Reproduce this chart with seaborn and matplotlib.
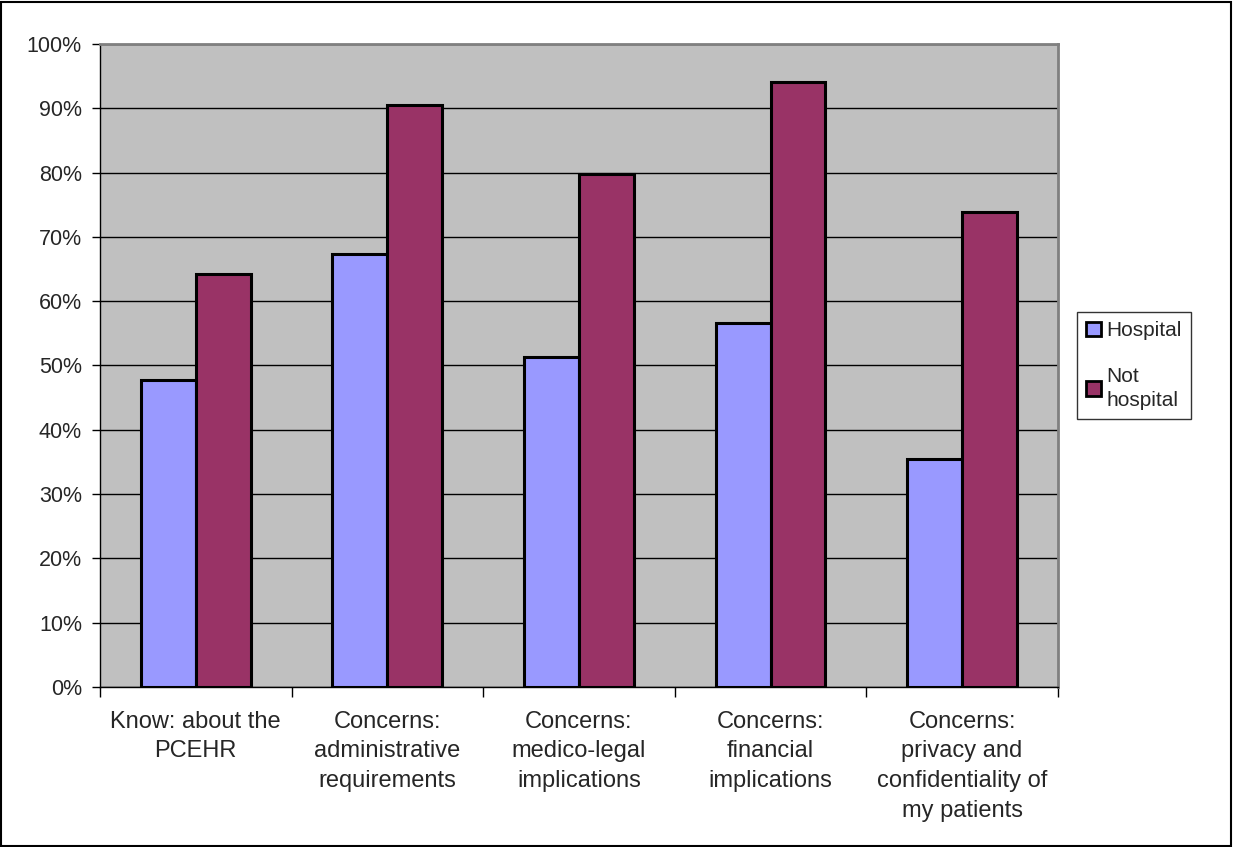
import numpy as np
import pandas as pd
import matplotlib.pyplot as plt
import seaborn as sns
from matplotlib.patches import Rectangle
from matplotlib.ticker import PercentFormatter

# Data
categories = ["Know: about the\nPCEHR",
              "Concerns:\nadministrative\nrequirements",
              "Concerns:\nmedico-legal\nimplications",
              "Concerns:\nfinancial\nimplications",
              "Concerns:\nprivacy and\nconfidentiality of\nmy patients"]
hospital = [47.8, 67.3, 51.3, 56.6, 35.4]
not_hospital = [64.3, 90.5, 79.8, 94.1, 73.9]
groups = ["Hospital", "Not\nhospital"]

df = pd.DataFrame({
    "category": categories * 2,
    "value": hospital + not_hospital,
    "group": [groups[0]] * 5 + [groups[1]] * 5,
})

sns.set_style("white")
plt.rcParams["font.family"] = ["Liberation Sans", "DejaVu Sans"]

fig = plt.figure(figsize=(12.33, 8.47), dpi=100)
ax = fig.add_axes([0.0811, 0.1889, 0.7769, 0.7592])
ax.set_facecolor("#C0C0C0")

sns.barplot(data=df, x="category", y="value", hue="group",
            palette={"Hospital": "#9999FF", "Not\nhospital": "#993366"},
            width=0.573, edgecolor="black", linewidth=2.2, saturation=1,
            ax=ax)

ax.set_ylim(0, 100)
ax.set_xlim(-0.5, 4.5)
ax.set_yticks(np.arange(0, 101, 10))
ax.yaxis.set_major_formatter(PercentFormatter(decimals=0))
ax.yaxis.grid(True, color="black", linewidth=1)
ax.set_axisbelow(True)
ax.set_xlabel("")
ax.set_ylabel("")

# category labels centred, tick marks at the boundaries
ax.set_xticks(range(5))
ax.set_xticklabels(categories, fontsize=17, linespacing=1.46)
ax.tick_params(axis="x", length=0, pad=17)
ax.set_xticks(np.arange(-0.5, 5, 1), minor=True)
ax.tick_params(axis="x", which="minor", length=7, width=1, color="black",
               direction="out", bottom=True)
ax.tick_params(axis="y", length=6, width=1, color="black", direction="out",
               left=True, labelsize=15.5, pad=7)

for side in ["top", "right"]:
    ax.spines[side].set_color("#808080")
    ax.spines[side].set_linewidth(2)
for side in ["left", "bottom"]:
    ax.spines[side].set_color("black")
    ax.spines[side].set_linewidth(1)

leg = ax.legend(loc="center left", bbox_to_anchor=(1.02, 0.5), frameon=True,
                fancybox=False, edgecolor="black", fontsize=15,
                handlelength=0.7, handleheight=0.7, handletextpad=0.25,
                labelspacing=1.3, borderpad=0.45, borderaxespad=0)
leg.get_frame().set_linewidth(1)
for t in leg.get_texts():
    t.set_linespacing(1.3)
for h in leg.legend_handles:
    h.set_linewidth(2)
    h.set_edgecolor("black")

# outer chart border
fig.patches.append(Rectangle((0.001, 0.001), 0.997, 0.997,
                             transform=fig.transFigure, fill=False,
                             edgecolor="black", linewidth=1.5))

fig.savefig("out.png", dpi=100)
